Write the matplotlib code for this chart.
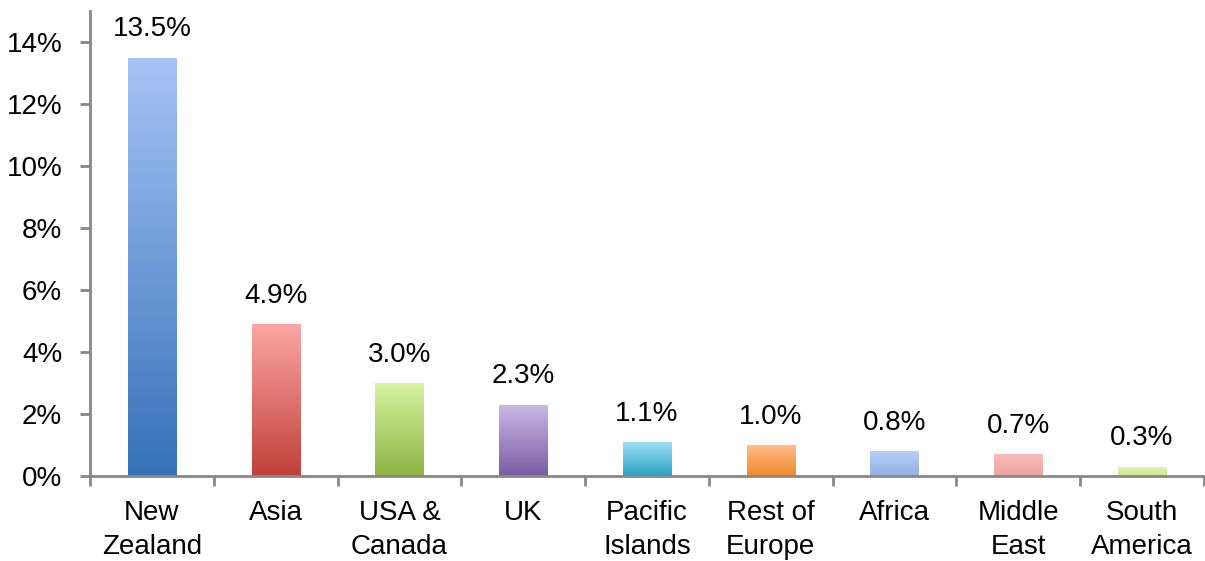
import numpy as np
import matplotlib.pyplot as plt
from matplotlib.colors import LinearSegmentedColormap
from matplotlib.ticker import FuncFormatter

plt.rcParams['font.family'] = ['Liberation Sans', 'DejaVu Sans']

# Share of population by region of birth
regions = ["New\nZealand", "Asia", "USA &\nCanada", "UK", "Pacific\nIslands",
           "Rest of\nEurope", "Africa", "Middle\nEast", "South\nAmerica"]
shares = [13.5, 4.9, 3.0, 2.3, 1.1, 1.0, 0.8, 0.7, 0.3]

# (top colour, bottom colour) of each bar's vertical gradient
top_colors = ["#a6c4f6", "#fca6a3", "#d8f3a2", "#cbb8e6", "#9de2f8",
              "#fdbd8a", "#b6cef8", "#fbbcb9", "#e0f6b6"]
bottom_colors = ["#3671b8", "#c0403a", "#8bb443", "#7a5ca1", "#2ea3c3",
                 "#f2892b", "#94b0e1", "#e9a4a1", "#c9e790"]

fig = plt.figure(figsize=(12.05, 5.61), dpi=100)
ax = fig.add_axes([90 / 1205, 1 - 476 / 561, 1 - 90 / 1205 - 0.001, (476 - 11) / 561])

x = np.arange(len(regions))
width = 0.39
bars = ax.bar(x, shares, width=width, color="none", edgecolor="none", zorder=2)

grad = np.linspace(0, 1, 256).reshape(-1, 1)
for bar, top, bottom in zip(bars, top_colors, bottom_colors):
    cmap = LinearSegmentedColormap.from_list("g", [bottom, top])
    x0, y0 = bar.get_x(), bar.get_y()
    im = ax.imshow(grad, cmap=cmap, origin="lower", aspect="auto",
                   extent=(x0, x0 + bar.get_width(), y0, y0 + bar.get_height()),
                   zorder=2)
    im.set_clip_path(bar)

for xi, v in zip(x, shares):
    ax.annotate(f"{v:.1f}%", (xi, v), xytext=(0, 11), textcoords="offset points",
                ha="center", va="bottom", fontsize=20)

ax.set_xlim(-0.5, len(regions) - 0.5)
ax.set_ylim(0, 15)
ax.set_yticks(np.arange(0, 15, 2))
ax.yaxis.set_major_formatter(FuncFormatter(lambda v, _: f"{v:.0f}%"))

# category labels centred, tick marks on category boundaries
ax.set_xticks(x)
ax.set_xticklabels(regions, fontsize=20, linespacing=1.4)
ax.set_xticks(np.arange(-0.5, len(regions), 1), minor=True)
ax.tick_params(axis="x", which="major", length=0, pad=17)
ax.tick_params(axis="x", which="minor", length=7, width=2, color="#888888")
ax.tick_params(axis="y", length=7, width=2, color="#888888", labelsize=20, pad=13)

for side in ("top", "right"):
    ax.spines[side].set_visible(False)
for side in ("left", "bottom"):
    ax.spines[side].set_color("#888888")
    ax.spines[side].set_linewidth(2)

fig.savefig("out.png", dpi=100)
